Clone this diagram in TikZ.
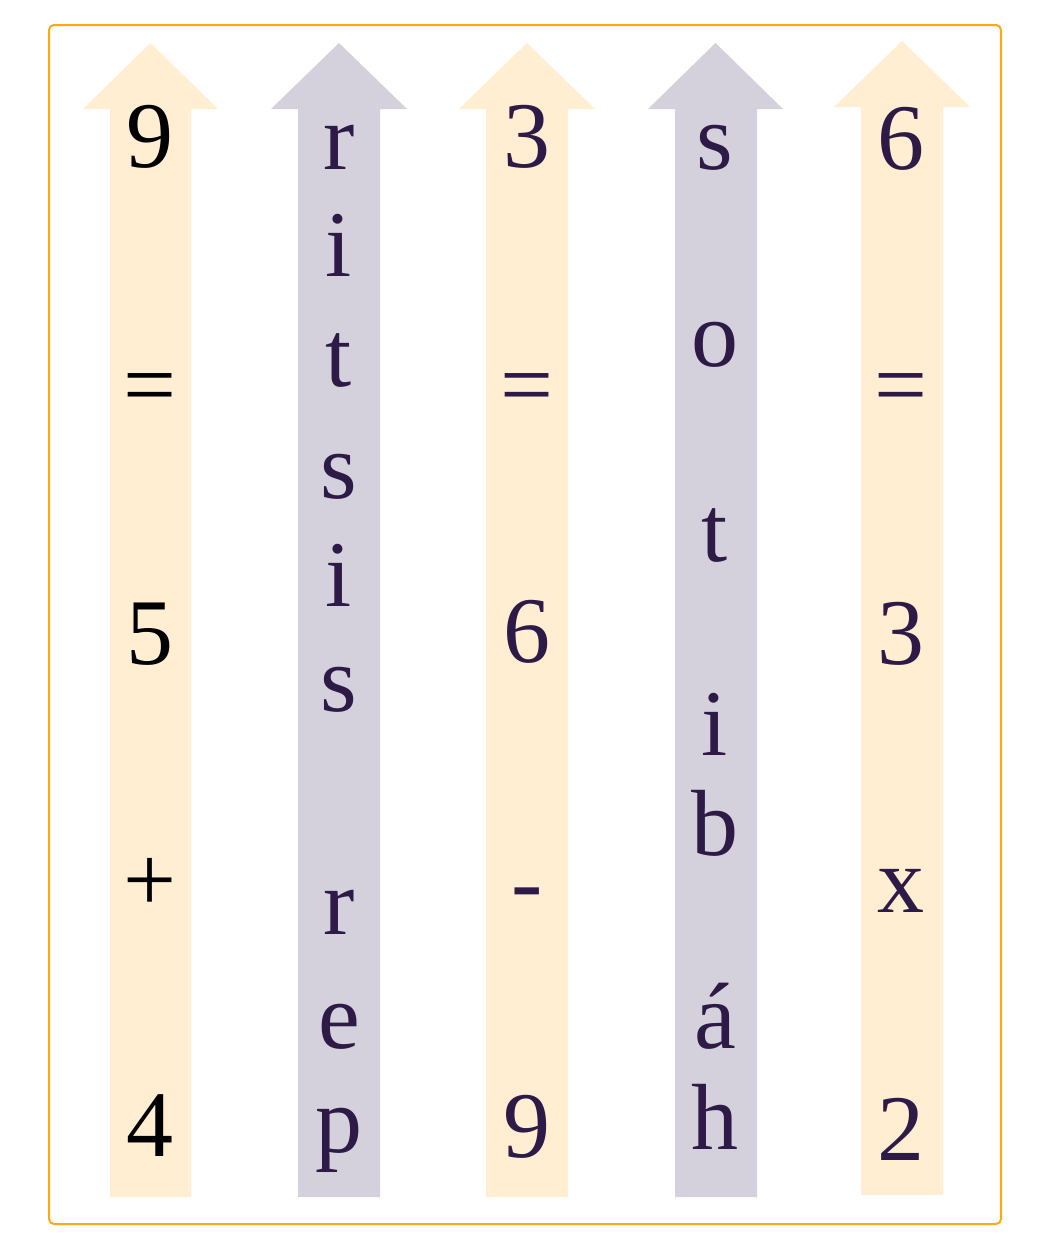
\documentclass[tikz,border=0pt]{standalone}
\usepackage{fontspec}
\setmainfont{Liberation Serif}
\definecolor{peach}{RGB}{255,238,210}
\definecolor{lav}{RGB}{212,209,220}
\definecolor{ink}{RGB}{46,26,71}
\definecolor{frameor}{RGB}{255,168,20}
\tikzset{
  glyph/.style={inner sep=0pt, anchor=center, font=\fontsize{94}{94}\selectfont, text=ink},
  blackglyph/.style={glyph, text=black},
  peacharrow/.style={fill=peach, draw=none},
  lavarrow/.style={fill=lav, draw=none},
  frame/.style={draw=frameor, line width=2pt, rounded corners=5pt}
}
\begin{document}
\begin{tikzpicture}[x=1pt,y=-1pt]
\useasboundingbox (0,0) rectangle (1050,1250);
\fill[white] (0,0) rectangle (1050,1250);
\draw[frame] (49,25) rectangle (1001,1224);
% arrows
\fill[peacharrow] (110,1197) -- (110,109) -- (83,109) -- (150.5,43) -- (218,109) -- (191,109) -- (191,1197) -- cycle;
\fill[lavarrow] (298,1197) -- (298,109) -- (271,109) -- (339,43) -- (407,109) -- (380,109) -- (380,1197) -- cycle;
\fill[peacharrow] (486,1197) -- (486,109) -- (459,109) -- (527,43) -- (595,109) -- (568,109) -- (568,1197) -- cycle;
\fill[lavarrow] (675,1197) -- (675,109) -- (648,109) -- (715.5,43) -- (783,109) -- (757,109) -- (757,1197) -- cycle;
\fill[peacharrow] (861,1195) -- (861,107) -- (834,107) -- (902,41) -- (970,107) -- (943,107) -- (943,1195) -- cycle;
% column 1
\node[blackglyph] (a1) at (150,137) {9};
\node[blackglyph] (a2) at (150,395) {=};
\node[blackglyph] (a3) at (150,634) {5};
\node[blackglyph] (a4) at (150,885) {+};
\node[blackglyph] (a5) at (150,1126) {4};
% column 2
\node[glyph] (b1) at (339,147) {r};
\node[glyph] (b2) at (339,245) {i};
\node[glyph] (b3) at (339,360) {t};
\node[glyph] (b4) at (339,477) {s};
\node[glyph] (b5) at (339,575) {i};
\node[glyph] (b6) at (339,690) {s};
\node[glyph] (b7) at (339,912) {r};
\node[glyph] (b8) at (339,1027) {e};
\node[glyph] (b9) at (339,1140) {p};
% column 3
\node[glyph] (c1) at (527,137) {3};
\node[glyph] (c2) at (527,395) {=};
\node[glyph] (c3) at (527,632) {6};
\node[glyph] (c4) at (527,901) {-};
\node[glyph] (c5) at (527,1127) {9};
% column 4
\node[glyph] (d1) at (715,148) {s};
\node[glyph] (d2) at (715,345) {o};
\node[glyph] (d3) at (715,535) {t};
\node[glyph] (d4) at (715,724) {i};
\node[glyph] (d5) at (715,823) {b};
\node[glyph] (d6) at (715,1016) {á};
\node[glyph] (d7) at (715,1117) {h};
% column 5
\node[glyph] (e1) at (901,139) {6};
\node[glyph] (e2) at (901,395) {=};
\node[glyph] (e3) at (901,634) {3};
\node[glyph] (e4) at (901,891) {x};
\node[glyph] (e5) at (901,1129) {2};
\end{tikzpicture}
\end{document}
